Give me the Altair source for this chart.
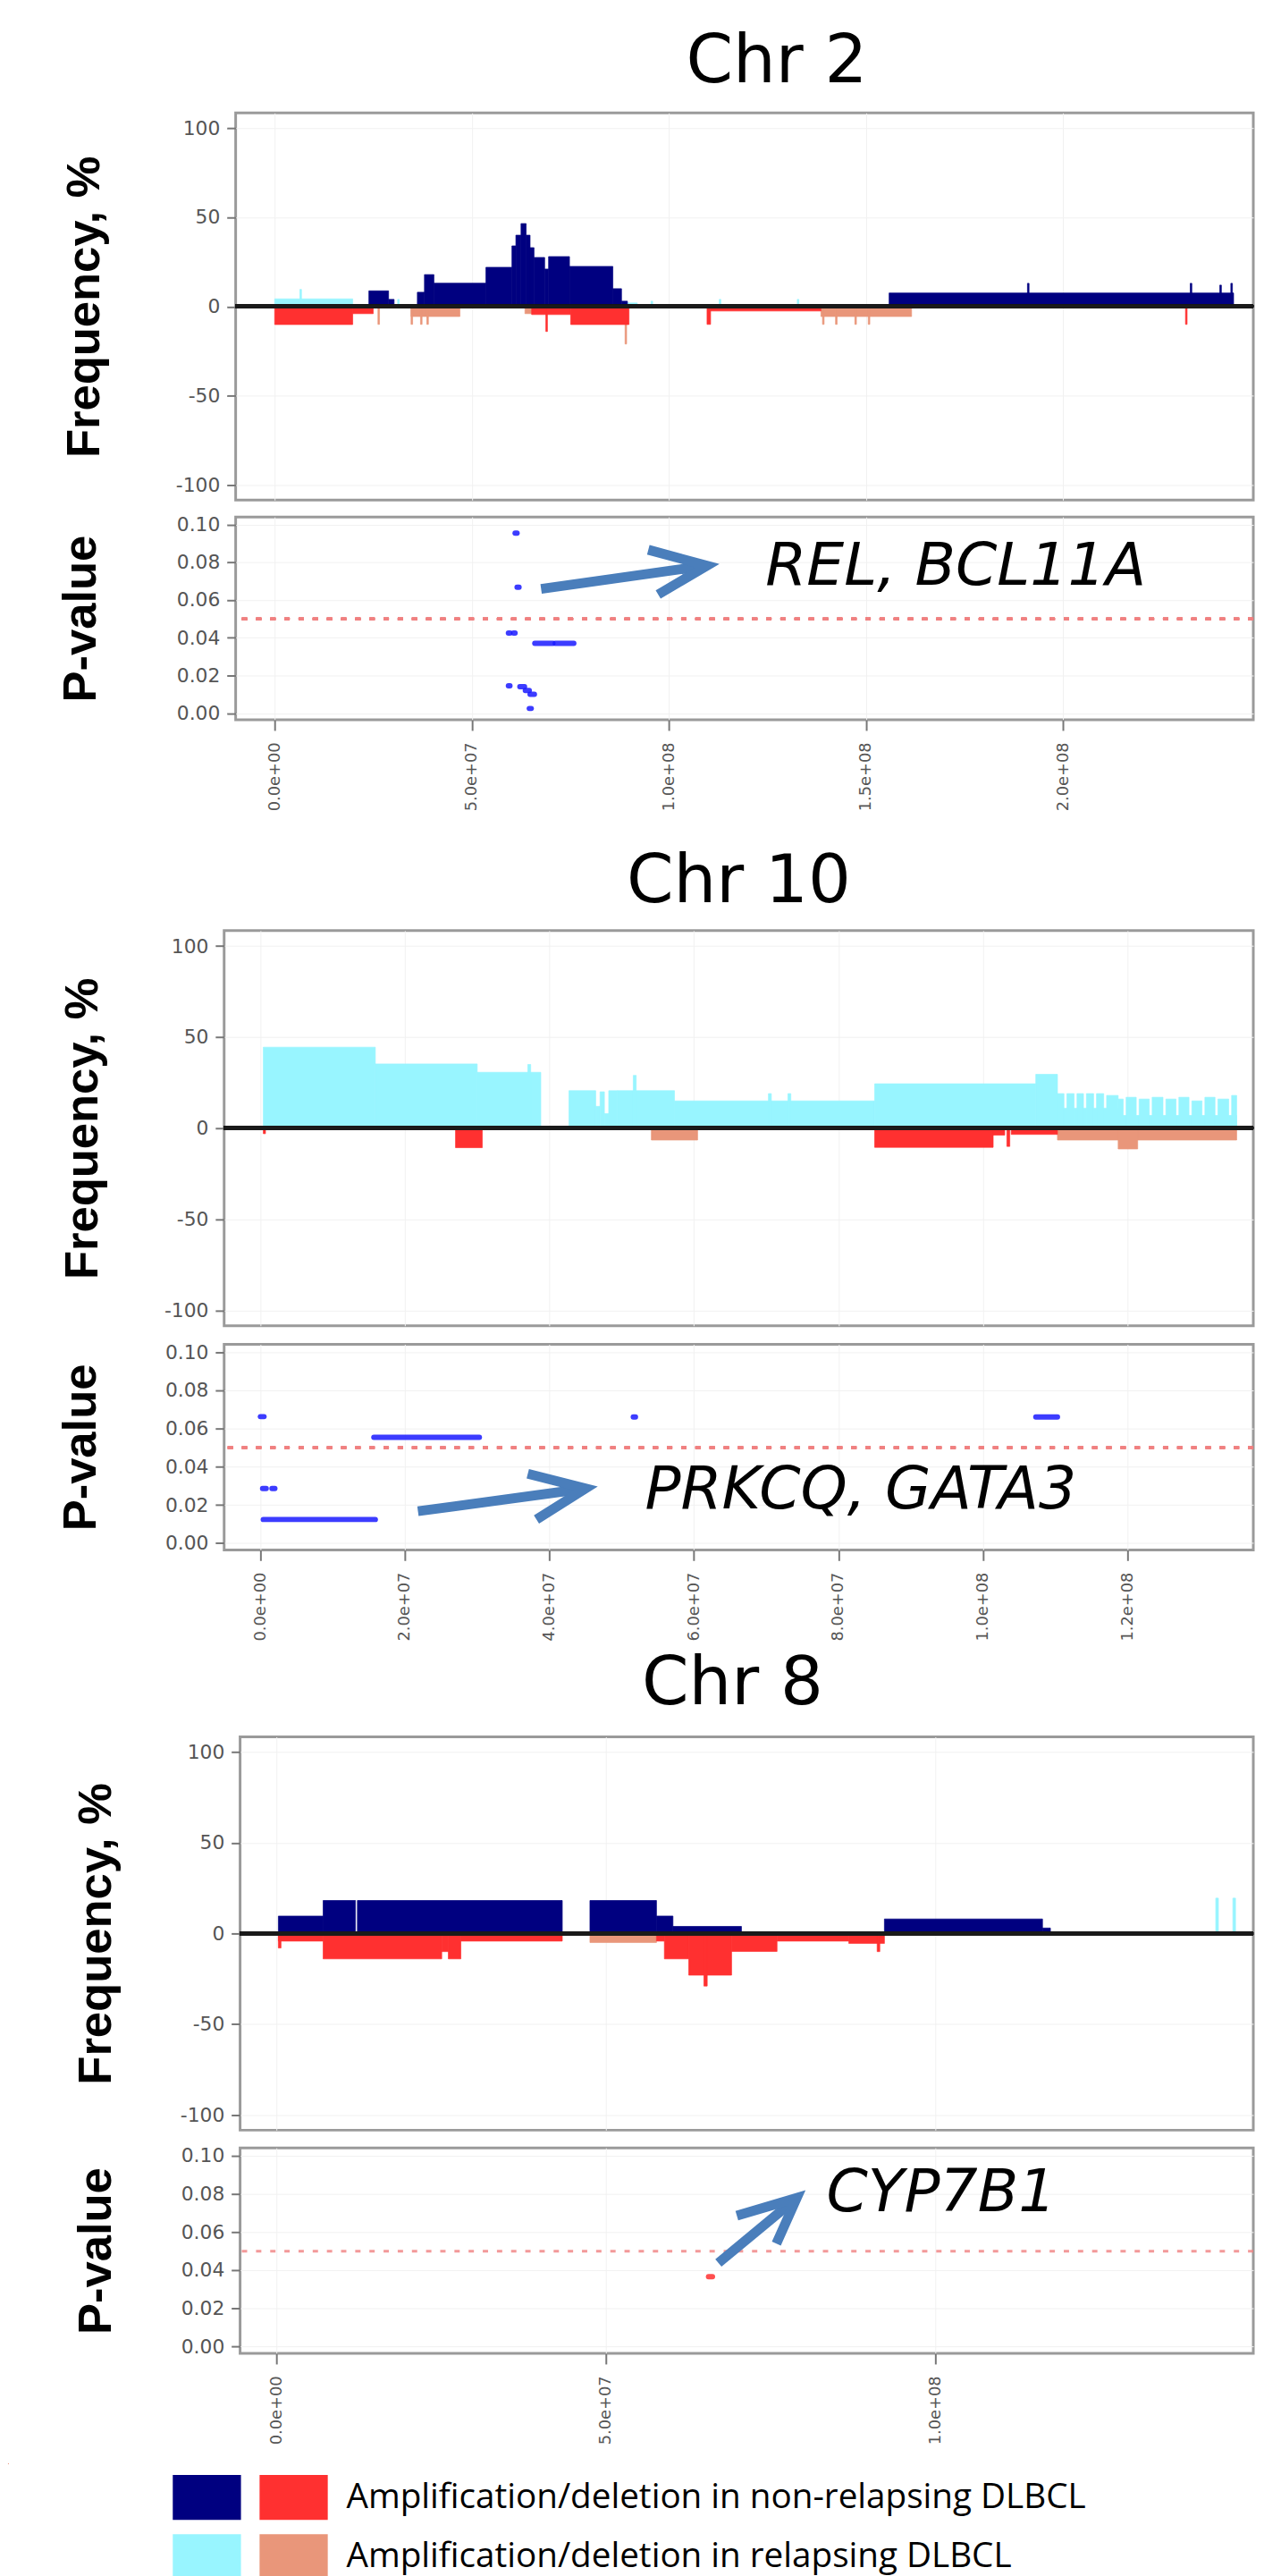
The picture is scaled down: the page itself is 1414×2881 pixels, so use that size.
import altair as alt
import pandas as pd

# ---------------- Frequency segments (start Mb, end Mb, frequency %) ----------------
# Chr 2
chr2_nr_amp_start = [23.9, 28.9, 36.2, 38.0, 40.4, 53.6, 60.2, 61.2, 62.5, 63.8, 64.8, 65.8, 68.5, 69.5, 74.8, 85.8, 88.0, 155.9, 191.0, 232.3, 239.8, 242.6]
chr2_nr_amp_end = [28.9, 30.3, 38.0, 40.4, 53.6, 60.2, 61.2, 62.5, 63.8, 64.8, 65.8, 68.5, 69.5, 74.8, 85.8, 88.0, 89.5, 243.3, 191.4, 232.7, 240.2, 243.0]
chr2_nr_amp_value = [8.8, 4.0, 8.0, 17.9, 13.1, 22.0, 34.0, 40.0, 46.5, 40.0, 33.0, 27.5, 21.0, 28.0, 22.5, 10.0, 3.0, 7.6, 13.0, 13.0, 12.0, 13.0]
chr2_r_amp_start = [0.0, 6.4, 31.2, 89.5, 95.5, 112.8, 132.6]
chr2_r_amp_end = [19.8, 6.8, 31.6, 92.0, 95.9, 113.2, 133.0]
chr2_r_amp_value = [4.3, 9.6, 4.0, 2.0, 3.0, 4.0, 4.0]
chr2_nr_del_start = [0.0, 19.8, 65.2, 68.8, 75.1, 109.7, 110.6, 231.1]
chr2_nr_del_end = [19.8, 25.0, 75.1, 69.2, 89.9, 110.6, 138.6, 231.5]
chr2_nr_del_value = [-10.1, -4.0, -4.5, -14.0, -10.1, -10.0, -2.5, -10.0]
chr2_r_del_start = [26.2, 34.6, 34.6, 37.0, 38.6, 63.5, 88.9, 138.6, 139.0, 142.3, 147.2, 150.6]
chr2_r_del_end = [26.6, 47.0, 35.0, 37.4, 39.0, 66.0, 89.3, 161.6, 139.4, 142.7, 147.6, 151.0]
chr2_r_del_value = [-10.0, -5.6, -10.0, -10.0, -10.0, -4.0, -21.0, -5.6, -10.0, -10.0, -10.0, -10.0]

# Chr 10
chr10_nr_amp_start = []
chr10_nr_amp_end = []
chr10_nr_amp_value = []
chr10_r_amp_start = [0.4, 15.9, 30.0, 37.0, 42.7, 46.4, 47.0, 47.6, 48.2, 49.4, 51.6, 57.3, 70.3, 73.0, 85.0, 107.3, 110.3, 118.7,
                     110.3, 111.6, 113.0, 114.3, 115.7, 117.1, 118.7, 119.8, 121.6, 123.4, 125.3, 127.1, 128.9, 130.7, 132.5, 134.4]
chr10_r_amp_end = [15.9, 30.0, 38.8, 37.4, 46.4, 47.0, 47.6, 48.2, 49.4, 57.3, 52.0, 85.0, 70.7, 73.4, 107.3, 110.3, 118.7, 135.1,
                   111.2, 112.6, 113.9, 115.3, 116.7, 118.7, 119.4, 121.2, 123.0, 124.9, 126.7, 128.5, 130.3, 132.1, 134.0, 135.1]
chr10_r_amp_value = [44.5, 35.3, 30.7, 35.0, 20.6, 12.0, 20.0, 8.0, 20.6, 20.6, 29.0, 15.0, 19.0, 19.0, 24.4, 29.6, 11.0, 7.0,
                     19.0, 19.0, 19.0, 19.0, 19.0, 18.0, 16.0, 17.0, 16.0, 17.0, 16.0, 17.0, 15.0, 17.0, 16.0, 18.0]
chr10_nr_del_start = [0.4, 27.0, 85.0, 101.4, 103.3, 103.9]
chr10_nr_del_end = [0.7, 30.7, 101.4, 103.0, 103.7, 110.3]
chr10_nr_del_value = [-3.0, -10.7, -10.5, -3.8, -10.0, -3.4]
chr10_r_del_start = [54.1, 110.3, 118.7]
chr10_r_del_end = [60.5, 135.1, 121.4]
chr10_r_del_value = [-6.5, -6.5, -11.4]

# Chr 8
chr8_nr_amp_start = [0.3, 7.1, 12.3, 47.6, 57.7, 60.2, 92.3, 116.3]
chr8_nr_amp_end = [7.1, 12.0, 43.4, 57.7, 60.2, 70.6, 116.3, 117.5]
chr8_nr_amp_value = [9.6, 18.2, 18.2, 18.2, 9.6, 3.9, 8.0, 3.0]
chr8_r_amp_start = [117.5, 142.6, 145.2]
chr8_r_amp_end = [145.0, 143.0, 145.6]
chr8_r_amp_value = [0.8, 19.5, 19.5]
chr8_nr_del_start = [0.3, 0.3, 7.1, 25.1, 26.1, 28.0, 57.7, 58.9, 62.6, 64.9, 69.1, 76.0, 86.9, 91.2]
chr8_nr_del_end = [7.1, 0.7, 25.1, 26.1, 28.0, 43.4, 58.9, 62.6, 69.1, 65.4, 76.0, 86.9, 92.3, 91.6]
chr8_nr_del_value = [-4.2, -8.0, -14.0, -10.0, -14.0, -4.2, -4.2, -14.0, -23.0, -29.0, -9.9, -4.2, -5.5, -10.0]
chr8_r_del_start = [47.6]
chr8_r_del_end = [57.7]
chr8_r_del_value = [-5.0]

# ---------------- P-values (start Mb, end Mb, p) ----------------
chr2_p_start = [61.0, 61.5, 59.3, 60.6, 66.0, 71.2, 59.3, 62.2, 63.6, 64.8, 64.6]
chr2_p_end = [61.5, 62.0, 59.7, 61.0, 70.6, 75.9, 59.7, 63.4, 64.6, 65.9, 65.1]
chr2_p_value = [0.0954, 0.0668, 0.0425, 0.0425, 0.0370, 0.0370, 0.0145, 0.0140, 0.0120, 0.0100, 0.0025]
chr10_p_start = [0.0, 15.7, 0.3, 1.6, 0.4, 51.6, 107.3]
chr10_p_end = [0.5, 30.3, 0.8, 2.0, 15.9, 51.9, 110.3]
chr10_p_value = [0.0662, 0.0554, 0.0286, 0.0286, 0.0124, 0.0660, 0.0660]
chr8_p_start = [65.6]
chr8_p_end = [66.2]
chr8_p_value = [0.0366]

# ---------------- Annotations (Mb, p) ----------------
chr2_arrow_x = [67.6, 109.7, 94.8, 109.7, 97.3]
chr2_arrow_y = [0.0659, 0.0782, 0.0866, 0.0782, 0.0629]
chr10_arrow_x = [21.8, 45.0, 37.0, 45.0, 38.2]
chr10_arrow_y = [0.0167, 0.0286, 0.0363, 0.0286, 0.0124]
chr8_arrow_x = [67.1, 79.0, 69.9, 79.0, 75.9]
chr8_arrow_y = [0.0438, 0.0778, 0.0685, 0.0778, 0.0539]
arrow_part = ["shaft", "shaft", "head", "head", "head"]

gene_labels = ["REL, BCL11A", "PRKCQ, GATA3", "CYP7B1"]
gene_x = [124.5, 53.2, 83.5]
gene_y = [0.0682, 0.0180, 0.0708]

chr_titles = ["Chr 2", "Chr 10", "Chr 8"]
chr2_ticks = [0, 5e7, 1e8, 1.5e8, 2e8]
chr10_ticks = [0, 2e7, 4e7, 6e7, 8e7, 1e8, 1.2e8]
chr8_ticks = [0, 5e7, 1e8]
freq_ticks = [-100, -50, 0, 50, 100]
p_ticks = [0.0, 0.02, 0.04, 0.06, 0.08, 0.10]

series_keys = ["nr_amp", "nr_del", "r_amp", "r_del"]
series_colors = ["#000080", "#ff3030", "#98f5ff", "#e9967a"]
legend_labels = ["", "Amplification/deletion in non-relapsing DLBCL", "",
                 "Amplification/deletion in relapsing DLBCL"]

# ---------------- helpers ----------------
color_scale = alt.Scale(domain=series_keys, range=series_colors)
label_expr = " : ".join(
    f"datum.value == '{k}' ? '{l}'" for k, l in zip(series_keys, legend_labels)) + " : ''"

legend = alt.Legend(
    orient="right", offset=185, columns=2, direction="horizontal", title=None,
    symbolType="M-1,-0.66H1V0.66H-1Z", symbolSize=5929, symbolStrokeWidth=0,
    symbolOpacity=1, labelFont="Open Sans", labelFontSize=39, labelColor="black",
    labelOffset=21, labelLimit=2000, columnPadding=0, rowPadding=3, padding=0,
    labelExpr=label_expr,
)


def seg_frame(groups):
    rows = []
    for key, s, e, v in groups:
        for a, b, c in zip(s, e, v):
            rows.append({"start": a * 1e6, "end": b * 1e6, "value": c, "series": key})
    return pd.DataFrame(rows, columns=["start", "end", "value", "series"])


def xscale(dom):
    return alt.Scale(domain=[dom[0] * 1e6, dom[1] * 1e6], nice=False, zero=False)


def freq_panel(df, dom, w, h, title, dx, offset, tx, ticks):
    ys = alt.Scale(domain=[-108.5, 108.5], nice=False, zero=False)
    xs = xscale(dom)
    bars = alt.Chart(df).mark_rect(strokeWidth=0.7).encode(
        x=alt.X("start:Q", scale=xs,
                axis=alt.Axis(values=ticks, labels=False, ticks=False, domain=False,
                              grid=True, gridColor="#f1f1f1", title=None)),
        x2="end:Q",
        y=alt.Y("value:Q", scale=ys,
                axis=alt.Axis(values=freq_ticks, title="Frequency, %",
                              labelExpr="(datum.value < 0 ? '-' : '') + format(abs(datum.value), 'd')",
                              titleFont="Liberation Sans", titleFontWeight="bold",
                              titleFontSize=53, titleColor="black", titleX=tx,
                              titleAngle=270, titleBaseline="middle",
                              labelFont="DejaVu Sans", labelFontSize=22, labelColor="#555",
                              tickSize=10, tickColor="#777", tickWidth=2, labelPadding=8,
                              domain=False, grid=True, gridColor="#f1f1f1",
                              labelOverlap=False, labelFlush=False)),
        y2=alt.datum(0),
        color=alt.Color("series:N", scale=color_scale, legend=None),
        stroke=alt.Stroke("series:N", scale=color_scale, legend=None),
    )
    zero = alt.Chart(df).mark_rule(color="#1a1a1a", strokeWidth=4).encode(y=alt.datum(0))
    return alt.layer(bars, zero).properties(
        width=w, height=h,
        title=alt.TitleParams(title, font="DejaVu Sans", fontSize=76, fontWeight="normal",
                              color="black", anchor="middle", frame="group", dx=dx,
                              offset=offset, baseline="alphabetic"),
    )


def pval_panel(pdf, adf, tdf, dom, w, h, tx, ticks, dot_color):
    xs = xscale(dom)
    ys = alt.Scale(domain=[-0.0035, 0.104], nice=False, zero=False)
    xaxis = alt.Axis(values=ticks, title=None, labelAngle=270,
                     labelExpr="replace(format(datum.value, '.1e'), 'e+', 'e+0')",
                     labelFont="DejaVu Sans", labelFontSize=18, labelColor="#555",
                     tickSize=12, tickColor="#777", tickWidth=2, labelPadding=13,
                     domain=False, grid=True, gridColor="#f1f1f1",
                     labelOverlap=False, labelFlush=False)
    yaxis = alt.Axis(values=p_ticks, format=".2f", title="P-value",
                     titleFont="Liberation Sans", titleFontWeight="bold",
                     titleFontSize=53, titleColor="black", titleX=tx,
                     titleAngle=270, titleBaseline="middle",
                     labelFont="DejaVu Sans", labelFontSize=22, labelColor="#555",
                     tickSize=10, tickColor="#777", tickWidth=2, labelPadding=8,
                     domain=False, grid=True, gridColor="#f1f1f1",
                     labelOverlap=False, labelFlush=False)
    pts = alt.Chart(pdf).mark_rule(strokeWidth=6, strokeCap="round", color=dot_color,
                                   opacity=0.85).encode(
        x=alt.X("start:Q", scale=xs, axis=xaxis),
        x2="end:Q",
        y=alt.Y("p:Q", scale=ys, axis=yaxis),
    )
    cut = alt.Chart(pdf).mark_rule(color="#f08080", strokeWidth=3, strokeDash=[6, 10],
                                   opacity=0.8).encode(y=alt.datum(0.05))
    arrow = alt.Chart(adf).mark_line(color="#4a7ebb", strokeWidth=11, strokeCap="butt",
                                     strokeJoin="miter").encode(
        x="x:Q", y="y:Q", detail="part:N", order="k:Q")
    text = alt.Chart(tdf).mark_text(font="DejaVu Sans", fontStyle="italic", fontSize=67,
                                    align="left", baseline="alphabetic",
                                    color="black").encode(x="x:Q", y="y:Q", text="label:N")
    return alt.layer(cut, pts, arrow, text).properties(width=w, height=h)


def p_frame(s, e, v):
    return pd.DataFrame({"start": [a * 1e6 for a in s], "end": [b * 1e6 for b in e], "p": v})


def arrow_frame(xs, ys):
    return pd.DataFrame({"x": [a * 1e6 for a in xs], "y": ys, "part": arrow_part,
                         "k": list(range(len(xs)))})


def text_frame(i):
    return pd.DataFrame({"x": [gene_x[i] * 1e6], "y": [gene_y[i]], "label": [gene_labels[i]]})


def spacer(w, h):
    return alt.Chart(pd.DataFrame({"a": [0]})).mark_point(size=0, opacity=0).properties(
        width=w, height=h, view=alt.ViewBackground(stroke="transparent"))


rows_cfg = [
    dict(df=seg_frame([("r_amp", chr2_r_amp_start, chr2_r_amp_end, chr2_r_amp_value),
                       ("r_del", chr2_r_del_start, chr2_r_del_end, chr2_r_del_value),
                       ("nr_amp", chr2_nr_amp_start, chr2_nr_amp_end, chr2_nr_amp_value),
                       ("nr_del", chr2_nr_del_start, chr2_nr_del_end, chr2_nr_del_value)]),
         pdf=p_frame(chr2_p_start, chr2_p_end, chr2_p_value),
         adf=arrow_frame(chr2_arrow_x, chr2_arrow_y), tdf=text_frame(0),
         dom=[-9.9, 248.3], w=1149, fh=437, ph=229, gap=13, dx=36.5, off=-41,
         ftx=-171, ptx=-175, ticks=chr2_ticks, dot="#1a1aff", sp=53.5),
    dict(df=seg_frame([("r_amp", chr10_r_amp_start, chr10_r_amp_end, chr10_r_amp_value),
                       ("r_del", chr10_r_del_start, chr10_r_del_end, chr10_r_del_value),
                       ("nr_amp", chr10_nr_amp_start, chr10_nr_amp_end, chr10_nr_amp_value),
                       ("nr_del", chr10_nr_del_start, chr10_nr_del_end, chr10_nr_del_value)]),
         pdf=p_frame(chr10_p_start, chr10_p_end, chr10_p_value),
         adf=arrow_frame(chr10_arrow_x, chr10_arrow_y), tdf=text_frame(1),
         dom=[-5.02, 137.4], w=1162, fh=446, ph=232, gap=15, dx=0, off=-44,
         ftx=-160, ptx=-162, ticks=chr10_ticks, dot="#1a1aff", sp=53.5),
    dict(df=seg_frame([("r_amp", chr8_r_amp_start, chr8_r_amp_end, chr8_r_amp_value),
                       ("r_del", chr8_r_del_start, chr8_r_del_end, chr8_r_del_value),
                       ("nr_amp", chr8_nr_amp_start, chr8_nr_amp_end, chr8_nr_amp_value),
                       ("nr_del", chr8_nr_del_start, chr8_nr_del_end, chr8_nr_del_value)]),
         pdf=p_frame(chr8_p_start, chr8_p_end, chr8_p_value),
         adf=arrow_frame(chr8_arrow_x, chr8_arrow_y), tdf=text_frame(2),
         dom=[-5.51, 148.3], w=1144, fh=444, ph=232, gap=14, dx=-16, off=-39,
         ftx=-162, ptx=-162, ticks=chr8_ticks, dot="#ff3030", sp=71.5),
]

rows = []
for i, c in enumerate(rows_cfg):
    fp = freq_panel(c["df"], c["dom"], c["w"], c["fh"], chr_titles[i], c["dx"], c["off"],
                    c["ftx"], c["ticks"])
    pp = pval_panel(c["pdf"], c["adf"], c["tdf"], c["dom"], c["w"], c["ph"], c["ptx"],
                    c["ticks"], c["dot"])
    block = alt.vconcat(fp, pp, spacing=c["gap"])
    rows.append(alt.hconcat(spacer(c["sp"], 1), block, spacing=0))

legend_df = pd.DataFrame({"series": series_keys})
legend_chart = alt.Chart(legend_df).mark_rect().encode(
    color=alt.Color("series:N", scale=color_scale, legend=legend)
).properties(width=1, height=1, view=alt.ViewBackground(stroke="transparent"))

chart = alt.vconcat(rows[0], spacer(1, 36), rows[1], spacer(1, 4), rows[2], spacer(1, 16),
                    legend_chart, spacing=0).properties(
    padding={"left": 0, "top": 8, "right": 0, "bottom": 0}
).resolve_scale(color="independent", stroke="independent").configure_view(
    stroke="#9a9a9a", strokeWidth=3)

chart.save("out.html", embed_options={"renderer": "svg", "actions": False})
